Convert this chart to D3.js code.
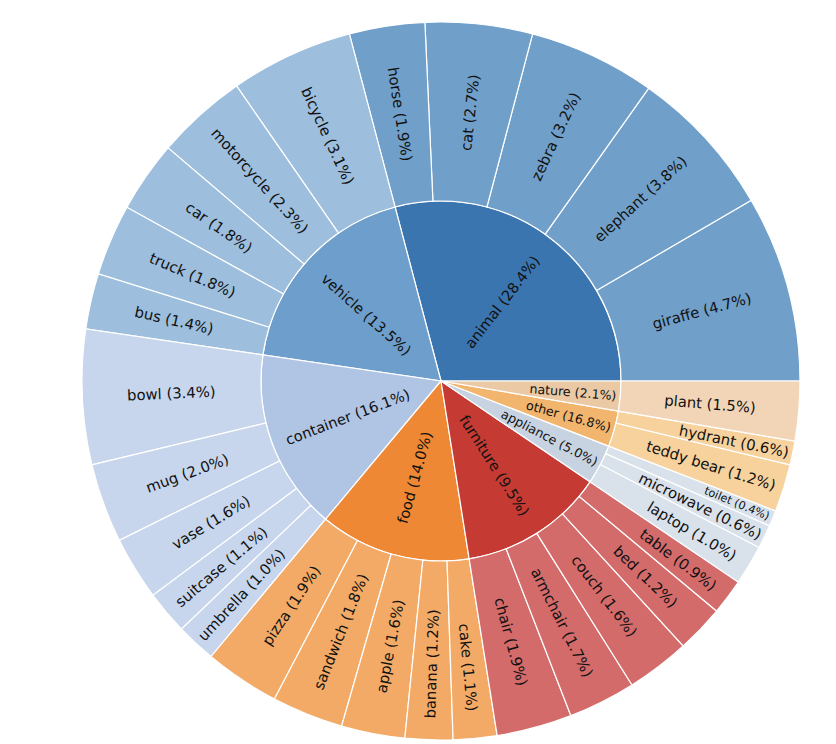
<!DOCTYPE html>
<html>
<head>
<meta charset="utf-8">
<script src="https://cdn.jsdelivr.net/npm/d3@7"></script>
<style>
  html, body { margin: 0; padding: 0; background: #fff; }
  svg { display: block; }
  text { font-family: "DejaVu Sans", sans-serif; fill: #111; }
</style>
</head>
<body>
<svg id="chart" width="836" height="744"></svg>
<script>
// ---- data ----
const categories   = ["animal", "vehicle", "container", "food", "furniture", "appliance", "other", "nature"];
const categoryPct  = [28.4, 13.5, 16.1, 14.0, 9.5, 5.0, 16.8, 2.1];
const innerColors  = ["#3a75b0", "#6e9ecb", "#b0c4e4", "#ee8834", "#c53a33", "#c8d3e1", "#f2b56e", "#ecc9a5"];
const outerColors  = ["#709fc9", "#9dbedd", "#c7d6ec", "#f3aa66", "#d46b6b", "#d9e1eb", "#f7d29d", "#f1d5b6"];
const itemNames = [
  ["giraffe", "elephant", "zebra", "cat", "horse"],
  ["bicycle", "motorcycle", "car", "truck", "bus"],
  ["bowl", "mug", "vase", "suitcase", "umbrella"],
  ["pizza", "sandwich", "apple", "banana", "cake"],
  ["chair", "armchair", "couch", "bed", "table"],
  ["laptop", "microwave", "toilet"],
  ["teddy bear", "hydrant"],
  ["plant"]
];
const itemPct = [
  [4.7, 3.8, 3.2, 2.7, 1.9],
  [3.1, 2.3, 1.8, 1.8, 1.4],
  [3.4, 2.0, 1.6, 1.1, 1.0],
  [1.9, 1.8, 1.6, 1.2, 1.1],
  [1.9, 1.7, 1.6, 1.2, 0.9],
  [1.0, 0.6, 0.4],
  [1.2, 0.6],
  [1.5]
];

// ---- build hierarchy ----
const tree = {
  name: "root",
  children: categories.map((c, i) => ({
    name: c, pct: categoryPct[i], ci: i,
    children: itemNames[i].map((n, j) => ({ name: n, pct: itemPct[i][j], ci: i, value: itemPct[i][j] }))
  }))
};

const W = 836, H = 744;
const cx = 441, cy = 381;
const R1 = 180, R2 = 359;

const root = d3.hierarchy(tree).sum(d => d.value || 0);
d3.partition().size([2 * Math.PI, 2])(root);

// ring radius scale (depth -> radius)
const rScale = d3.scaleLinear().domain([0, 1, 2]).range([0, R1, R2]);

// theta: counterclockwise from east; d3.arc angle: clockwise from north
const arc = d3.arc()
  .startAngle(d => Math.PI / 2 - d.x1)
  .endAngle(d => Math.PI / 2 - d.x0)
  .innerRadius(d => rScale(d.depth - 1))
  .outerRadius(d => rScale(d.depth));

const svg = d3.select("#chart");
const g = svg.append("g").attr("transform", `translate(${cx},${cy})`);

const nodes = root.descendants().filter(d => d.depth > 0);

g.selectAll("path")
  .data(nodes)
  .join("path")
  .attr("d", arc)
  .attr("fill", d => d.depth === 1 ? innerColors[d.data.ci] : outerColors[d.data.ci])
  .attr("stroke", "#fff")
  .attr("stroke-width", 1.2);

// ---- labels ----
const labels = g.selectAll("text")
  .data(nodes)
  .join("text")
  .attr("text-anchor", "middle")
  .attr("dominant-baseline", "central")
  .style("font-size", d => {
    const deg = (d.x1 - d.x0) * 180 / Math.PI;
    if (d.depth === 1) return (deg < 15 ? 12.6 : 14.6) + "px";
    return (deg < 3 ? 11.2 : 14.8) + "px";
  })
  .text(d => `${d.data.name} (${d.data.pct.toFixed(1)}%)`);

labels.each(function(d) {
  const L = this.getComputedTextLength();
  const deg = (d.x1 - d.x0) * 180 / Math.PI;
  let r;
  if (d.depth === 1) {
    r = deg < 15 ? R1 - 4 - L / 2 : 100;
  } else {
    r = Math.min(270 + Math.max(0, 9.5 - deg) * 7.3, R2 - 4 - L / 2);
  }
  const th = (d.x0 + d.x1) / 2;
  const x = r * Math.cos(th), y = -r * Math.sin(th);
  let rot = -th * 180 / Math.PI;
  const thDeg = th * 180 / Math.PI;
  if (thDeg > 90 && thDeg < 270) rot += 180;
  d3.select(this).attr("transform", `translate(${x},${y}) rotate(${rot})`);
});
</script>
</body>
</html>
